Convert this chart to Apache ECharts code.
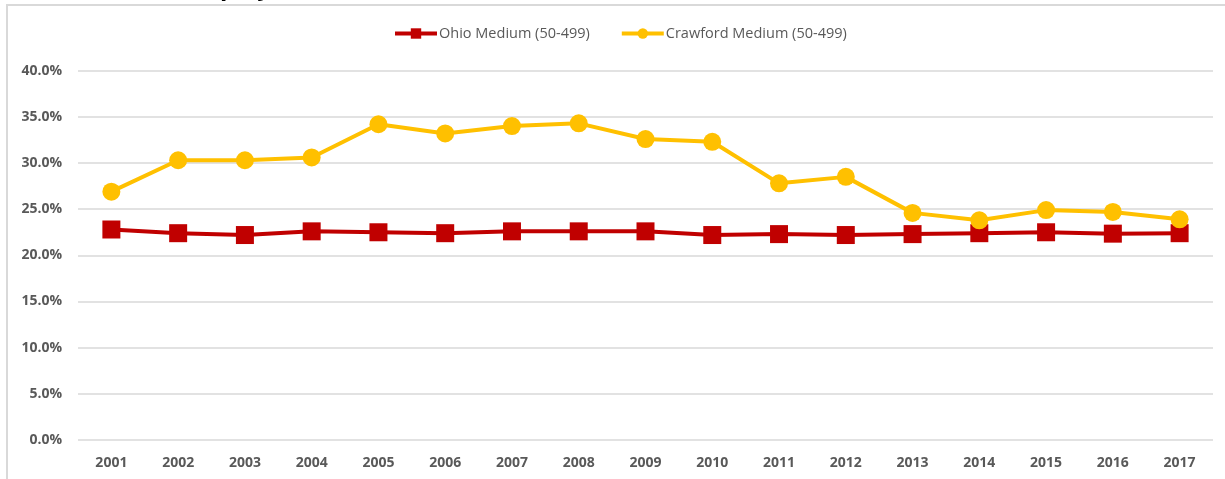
<!DOCTYPE html>
<html>
<head>
<meta charset="utf-8">
<script src="https://cdn.jsdelivr.net/npm/echarts@6/dist/echarts.min.js"></script>
<style>
  html, body { margin: 0; padding: 0; background: #fff; }
  #chart { width: 1225px; height: 479px; }
</style>
</head>
<body>
<div id="chart"></div>
<script>
var years = ['2001', '2002', '2003', '2004', '2005', '2006', '2007', '2008', '2009',
  '2010', '2011', '2012', '2013', '2014', '2015', '2016', '2017']
// shares in percent
var ohioMedium = [22.8, 22.4, 22.2, 22.6, 22.5, 22.4, 22.6, 22.6, 22.6, 22.2, 22.3, 22.2, 22.3, 22.4, 22.5, 22.35, 22.4]
var crawfordMedium = [26.9, 30.3, 30.3, 30.6, 34.2, 33.2, 34.0, 34.3, 32.6, 32.3, 27.8, 28.5, 24.6, 23.8, 24.9, 24.7, 23.9]

var chart = echarts.init(document.getElementById('chart'))

chart.setOption({
  backgroundColor: '#ffffff',
  animation: false,
  textStyle: { fontFamily: 'Open Sans' },
  graphic: [{
    type: 'rect',
    shape: { x: 7, y: 5, width: 1300, height: 600 },
    style: { fill: 'none', stroke: '#d9d9d9', lineWidth: 2 },
    silent: true
  }, {
    // title above the frame, mostly cut off
    type: 'text',
    left: 78,
    top: -24,
    style: {
      text: 'Medium Employment',
      font: 'bold 24px "Open Sans"',
      fill: '#000000'
    },
    silent: true
  }],
  legend: {
    top: 21,
    left: 388,
    itemWidth: 42,
    itemHeight: 13,
    itemGap: 30,
    lineStyle: { width: 4 },
    textStyle: { fontSize: 14.5, color: '#595959', padding: [0, 0, 0, -3] },
    data: ['Ohio Medium (50-499)', 'Crawford Medium (50-499)']
  },
  grid: {
    left: 78,
    right: 12,
    top: 70.7,
    bottom: 39
  },
  xAxis: {
    type: 'category',
    data: years,
    boundaryGap: true,
    axisLine: { show: false },
    axisTick: { show: false },
    axisLabel: {
      margin: 16,
      fontSize: 14,
      fontWeight: 'bold',
      color: '#595959'
    }
  },
  yAxis: {
    type: 'value',
    min: 0,
    max: 40,
    interval: 5,
    axisLine: { show: false },
    axisTick: { show: false },
    axisLabel: {
      margin: 16,
      fontSize: 14,
      fontWeight: 'bold',
      color: '#595959',
      formatter: function (v) { return v.toFixed(1) + '%' }
    },
    splitLine: { lineStyle: { color: '#d9d9d9', width: 1.5 } }
  },
  series: [{
    name: 'Ohio Medium (50-499)',
    type: 'line',
    data: ohioMedium,
    symbol: 'rect',
    symbolSize: 18,
    lineStyle: { color: '#c00000', width: 4 },
    itemStyle: { color: '#c00000' },
    z: 2
  }, {
    name: 'Crawford Medium (50-499)',
    type: 'line',
    data: crawfordMedium,
    symbol: 'circle',
    symbolSize: 18,
    lineStyle: { color: '#ffc000', width: 4 },
    itemStyle: { color: '#ffc000' },
    z: 3
  }]
})
</script>
</body>
</html>
